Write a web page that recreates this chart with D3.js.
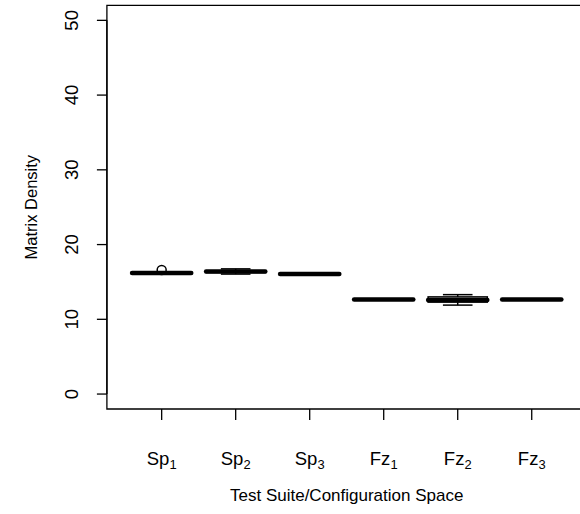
<!DOCTYPE html>
<html>
<head>
<meta charset="utf-8">
<script src="https://cdn.jsdelivr.net/npm/d3@7"></script>
<style>
  html, body { margin: 0; padding: 0; background: #fff; overflow: hidden; }
  svg { display: block; overflow: hidden; font-family: "Liberation Sans", Arial, sans-serif; }
</style>
</head>
<body>
<svg id="chart"></svg>
<script>
// Box summaries per group
const groups = ["Sp", "Sp", "Sp", "Fz", "Fz", "Fz"];
const subs = ["1", "2", "3", "1", "2", "3"];
const lowWhisker = [16.2, 16.05, 16.05, 12.65, 11.9, 12.65];
const q1 = [16.2, 16.25, 16.05, 12.65, 12.3, 12.65];
const median = [16.2, 16.4, 16.05, 12.65, 12.6, 12.65];
const q3 = [16.2, 16.5, 16.05, 12.65, 13.0, 12.65];
const highWhisker = [16.2, 16.75, 16.05, 12.65, 13.3, 12.65];
const outliers = [[16.6], [], [], [], [], []];
const yTicks = [0, 10, 20, 30, 40, 50];

const width = 580;
const height = 514;
const axisFont = 18.5;
const labFont = 17;

const svg = d3.select("#chart")
    .attr("width", width)
    .attr("height", height)
    .attr("viewBox", `0 0 ${width} ${height}`);

svg.append("defs").append("clipPath")
    .attr("id", "page")
    .append("rect")
    .attr("width", width)
    .attr("height", height);

const root = svg.append("g").attr("clip-path", "url(#page)");

// R style plot region: xlim 0.5..6.5 and ylim 0..50, both padded 4%
const x = d3.scaleLinear().domain([0.26, 6.74]).range([106.9, 586.5]);
const y = d3.scaleLinear().domain([-2, 52]).range([409, 5.4]);

const boxHalf = (x(1.4) - x(1)); // boxwex 0.8
const stapleHalf = boxHalf / 2;

// frame (right side falls outside the window)
const [x0, x1] = x.range();
const [yb, yt] = y.range();
root.append("path")
    .attr("d", `M${width},${yt}H${x0}V${yb}H${width}`)
    .attr("fill", "none")
    .attr("stroke", "#000")
    .attr("stroke-width", 1.3);

// y axis
const yAxis = root.append("g");
yAxis.append("line")
    .attr("x1", x0).attr("x2", x0)
    .attr("y1", y(0)).attr("y2", y(50))
    .attr("stroke", "#000").attr("stroke-width", 1.3);
yAxis.selectAll("line.tick")
    .data(yTicks)
    .join("line")
    .attr("class", "tick")
    .attr("x1", x0 - 10).attr("x2", x0)
    .attr("y1", d => y(d)).attr("y2", d => y(d))
    .attr("stroke", "#000").attr("stroke-width", 1.3);
yAxis.selectAll("text")
    .data(yTicks)
    .join("text")
    .attr("transform", d => `translate(78,${y(d)}) rotate(-90)`)
    .attr("text-anchor", "middle")
    .attr("font-size", axisFont)
    .text(d => d);

// x axis ticks
const xIdx = d3.range(1, groups.length + 1);
root.append("g").selectAll("line")
    .data(xIdx)
    .join("line")
    .attr("x1", d => x(d)).attr("x2", d => x(d))
    .attr("y1", yb).attr("y2", yb + 11)
    .attr("stroke", "#000").attr("stroke-width", 1.3);

const xLab = root.append("g").selectAll("text")
    .data(xIdx)
    .join("text")
    .attr("x", d => x(d))
    .attr("y", 465)
    .attr("text-anchor", "middle")
    .attr("font-size", axisFont);
xLab.append("tspan").text(d => groups[d - 1]);
xLab.append("tspan")
    .attr("font-size", axisFont * 0.7)
    .attr("dy", 4)
    .text(d => subs[d - 1]);

// axis titles
root.append("text")
    .attr("x", (x0 + x1) / 2)
    .attr("y", 501)
    .attr("text-anchor", "middle")
    .attr("font-size", labFont)
    .text("Test Suite/Configuration Space");

root.append("text")
    .attr("transform", `translate(37,${(yb + yt) / 2}) rotate(-90)`)
    .attr("text-anchor", "middle")
    .attr("font-size", 16.5)
    .text("Matrix Density");

// boxes
const box = root.append("g").selectAll("g")
    .data(xIdx)
    .join("g");

// whiskers (dashed)
box.append("line")
    .attr("x1", d => x(d)).attr("x2", d => x(d))
    .attr("y1", d => y(lowWhisker[d - 1])).attr("y2", d => y(q1[d - 1]))
    .attr("stroke", "#000").attr("stroke-width", 1.5).attr("stroke-dasharray", "4,4");
box.append("line")
    .attr("x1", d => x(d)).attr("x2", d => x(d))
    .attr("y1", d => y(q3[d - 1])).attr("y2", d => y(highWhisker[d - 1]))
    .attr("stroke", "#000").attr("stroke-width", 1.5).attr("stroke-dasharray", "4,4");

// staples
box.append("line")
    .attr("x1", d => x(d) - stapleHalf).attr("x2", d => x(d) + stapleHalf)
    .attr("y1", d => y(lowWhisker[d - 1])).attr("y2", d => y(lowWhisker[d - 1]))
    .attr("stroke", "#000").attr("stroke-width", 1.5);
box.append("line")
    .attr("x1", d => x(d) - stapleHalf).attr("x2", d => x(d) + stapleHalf)
    .attr("y1", d => y(highWhisker[d - 1])).attr("y2", d => y(highWhisker[d - 1]))
    .attr("stroke", "#000").attr("stroke-width", 1.5);

// box body
box.append("rect")
    .attr("x", d => x(d) - boxHalf)
    .attr("y", d => y(q3[d - 1]))
    .attr("width", boxHalf * 2)
    .attr("height", d => Math.max(0, y(q1[d - 1]) - y(q3[d - 1])))
    .attr("fill", "none")
    .attr("stroke", "#000")
    .attr("stroke-width", 1.5);

// median
box.append("line")
    .attr("x1", d => x(d) - boxHalf).attr("x2", d => x(d) + boxHalf)
    .attr("y1", d => y(median[d - 1])).attr("y2", d => y(median[d - 1]))
    .attr("stroke", "#000").attr("stroke-width", 4.5)
    .attr("stroke-linecap", "round");

// outliers
box.selectAll("circle")
    .data(d => outliers[d - 1].map(v => ({ i: d, v })))
    .join("circle")
    .attr("cx", d => x(d.i))
    .attr("cy", d => y(d.v))
    .attr("r", 4.5)
    .attr("fill", "none")
    .attr("stroke", "#000")
    .attr("stroke-width", 1.5);
</script>
</body>
</html>
